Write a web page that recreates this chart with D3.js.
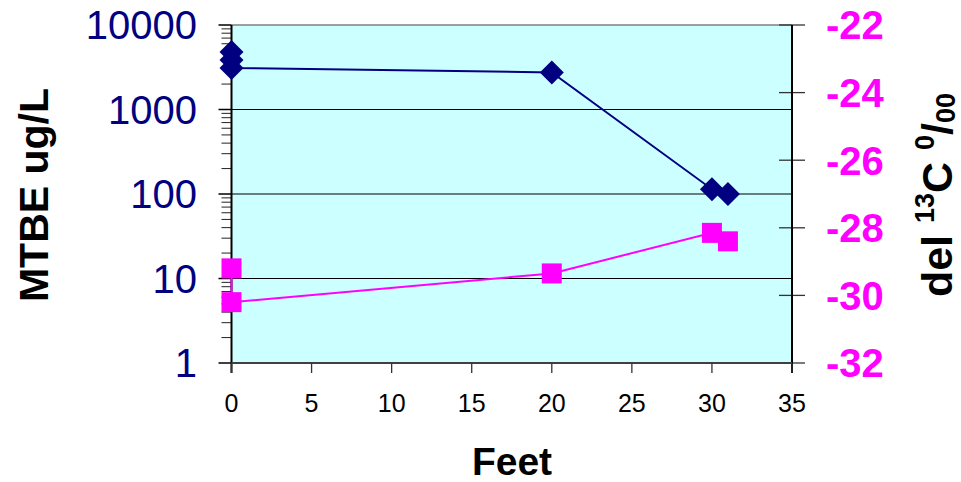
<!DOCTYPE html>
<html>
<head>
<meta charset="utf-8">
<script src="https://cdn.jsdelivr.net/npm/d3@7"></script>
<style>
  html, body { margin: 0; padding: 0; background: #fff; }
  svg { display: block; font-family: "Liberation Sans", Arial, sans-serif; }
</style>
</head>
<body>
<svg id="chart" width="961" height="482"></svg>
<script>
// MTBE concentration (log scale, left axis)
const mtbeFeet = [0, 0, 0, 20, 30, 31];
const mtbeValues = [4800, 3850, 3100, 2750, 114, 100];

// Carbon isotope ratio (right axis)
const delFeet = [0, 0, 20, 30, 31];
const delValues = [-29.2, -30.2, -29.35, -28.15, -28.4];

// Axis ticks
const feetTicks = [0, 5, 10, 15, 20, 25, 30, 35];
const mtbeTicks = [1, 10, 100, 1000, 10000];
const delTicks = [-32, -30, -28, -26, -24, -22];

const svg = d3.select("#chart");
const plotL = 231.5, plotR = 792, plotT = 25, plotB = 363;

const x = d3.scaleLinear().domain([0, 35]).range([plotL, plotR]);
const yL = d3.scaleLog().domain([1, 10000]).range([plotB, plotT]);
const yR = d3.scaleLinear().domain([-32, -22]).range([plotB, plotT]);

const navy = "#000080", magenta = "#FF00FF";

// Plot background
svg.append("rect")
  .attr("x", plotL).attr("y", plotT)
  .attr("width", plotR - plotL).attr("height", plotB - plotT)
  .attr("fill", "#CCFFFF");

// Horizontal gridlines at the decades
svg.append("g").selectAll("line")
  .data(mtbeTicks.filter(d => d > 1 && d < 10000))
  .join("line")
  .attr("x1", plotL).attr("x2", plotR)
  .attr("y1", d => yL(d)).attr("y2", d => yL(d))
  .attr("stroke", "#000").attr("stroke-width", 1);

// Top border
svg.append("line")
  .attr("x1", plotL).attr("x2", plotR)
  .attr("y1", plotT).attr("y2", plotT)
  .attr("stroke", "#808080").attr("stroke-width", 1.5);

// Left axis: major and minor ticks (outside), with labels
const minor = [];
for (let p = 0; p < 4; p++) for (let m = 2; m <= 9; m++) minor.push(m * Math.pow(10, p));
const gL = svg.append("g");
gL.selectAll("line.minor").data(minor).join("line")
  .attr("class", "minor")
  .attr("x1", plotL - 10).attr("x2", plotL)
  .attr("y1", d => yL(d)).attr("y2", d => yL(d))
  .attr("stroke", "#222").attr("stroke-width", 1);
gL.selectAll("line.major").data(mtbeTicks).join("line")
  .attr("class", "major")
  .attr("x1", plotL - 13).attr("x2", plotL)
  .attr("y1", d => yL(d)).attr("y2", d => yL(d))
  .attr("stroke", "#000").attr("stroke-width", 1.5);
gL.selectAll("text").data(mtbeTicks).join("text")
  .attr("x", 197).attr("y", d => yL(d))
  .attr("dy", "0.36em")
  .attr("text-anchor", "end")
  .attr("fill", navy)
  .attr("font-size", 40)
  .text(d => d3.format("d")(d));
gL.append("line")
  .attr("x1", plotL).attr("x2", plotL)
  .attr("y1", plotT).attr("y2", plotB + 10)
  .attr("stroke", "#000").attr("stroke-width", 2);

// Right axis: cross ticks and labels
const gR = svg.append("g");
gR.selectAll("line").data(delTicks).join("line")
  .attr("x1", plotR - 13).attr("x2", plotR + 13)
  .attr("y1", d => yR(d)).attr("y2", d => yR(d))
  .attr("stroke", "#333").attr("stroke-width", 1.3);
gR.append("line")
  .attr("x1", plotR).attr("x2", plotR)
  .attr("y1", plotT).attr("y2", plotB + 10)
  .attr("stroke", "#000").attr("stroke-width", 2);
gR.selectAll("text").data(delTicks).join("text")
  .attr("x", 826).attr("y", d => yR(d))
  .attr("dy", "0.36em")
  .attr("fill", magenta)
  .attr("font-size", 40)
  .attr("font-weight", "bold")
  .text(d => String(d));

// Bottom axis
const gB = svg.append("g");
gB.append("line")
  .attr("x1", plotL).attr("x2", plotR)
  .attr("y1", plotB).attr("y2", plotB)
  .attr("stroke", "#404040").attr("stroke-width", 2);
gB.selectAll("line.tick").data(feetTicks).join("line")
  .attr("class", "tick")
  .attr("x1", d => x(d)).attr("x2", d => x(d))
  .attr("y1", plotB).attr("y2", plotB + 10)
  .attr("stroke", "#333").attr("stroke-width", 1.3);
gB.selectAll("text").data(feetTicks).join("text")
  .attr("x", d => x(d)).attr("y", 412)
  .attr("text-anchor", "middle")
  .attr("fill", "#000")
  .attr("font-size", 25)
  .text(d => d);

// Axis titles
svg.append("text")
  .attr("transform", "translate(48,195) rotate(-90)")
  .attr("text-anchor", "middle")
  .attr("font-size", 41).attr("font-weight", "bold")
  .attr("fill", "#000")
  .text("MTBE ug/L");

svg.append("text")
  .attr("x", 512).attr("y", 475)
  .attr("text-anchor", "middle")
  .attr("font-size", 39).attr("font-weight", "bold")
  .attr("fill", "#000")
  .text("Feet");

const rt = svg.append("text")
  .attr("transform", "translate(952,195) rotate(-90)")
  .attr("text-anchor", "middle")
  .attr("font-weight", "bold")
  .attr("fill", "#000")
  .attr("font-size", 43);
rt.append("tspan").text("del ");
rt.append("tspan").attr("font-size", 27).attr("dy", -18).text("13");
rt.append("tspan").attr("dy", 18).text("C ");
rt.append("tspan").attr("font-size", 27).attr("dy", -18).text("0");
rt.append("tspan").attr("font-size", 43).attr("dy", 18).text("/");
rt.append("tspan").attr("font-size", 27).attr("dy", 3).text("00");

// Isotope series
const delData = delFeet.map((f, i) => ({ f, v: delValues[i] }));
svg.append("path")
  .datum(delData)
  .attr("fill", "none")
  .attr("stroke", magenta).attr("stroke-width", 2)
  .attr("d", d3.line().x(d => x(d.f)).y(d => yR(d.v)));
svg.append("g").selectAll("rect").data(delData).join("rect")
  .attr("x", d => x(d.f) - 10).attr("y", d => yR(d.v) - 10)
  .attr("width", 20).attr("height", 20)
  .attr("fill", magenta);

// MTBE series
const mtbeData = mtbeFeet.map((f, i) => ({ f, v: mtbeValues[i] }));
svg.append("path")
  .datum(mtbeData)
  .attr("fill", "none")
  .attr("stroke", navy).attr("stroke-width", 2)
  .attr("d", d3.line().x(d => x(d.f)).y(d => yL(d.v)));
const diamond = "M0,-12L12,0L0,12L-12,0Z";
svg.append("g").selectAll("path").data(mtbeData).join("path")
  .attr("transform", d => `translate(${x(d.f)},${yL(d.v)})`)
  .attr("d", diamond)
  .attr("fill", navy);
</script>
</body>
</html>
